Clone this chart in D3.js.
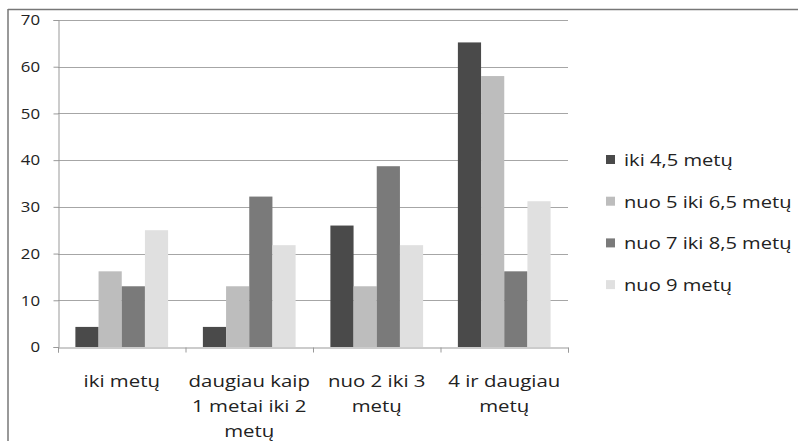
<!DOCTYPE html>
<html><head><meta charset="utf-8">
<script src="https://cdn.jsdelivr.net/npm/d3@7/dist/d3.min.js"></script>
<style>body{margin:0;background:#fff}svg{display:block}</style>
</head><body>
<svg id="c" width="798" height="441"></svg>
<script>
const categories = [["iki metų"], ["daugiau kaip", "1 metai iki 2", "metų"], ["nuo 2 iki 3", "metų"], ["4 ir daugiau", "metų"]];
const seriesNames = ["iki 4,5 metų", "nuo 5 iki 6,5 metų", "nuo 7 iki 8,5 metų", "nuo 9 metų"];
const s1 = [4.3, 4.3, 26, 65.2];
const s2 = [16.2, 13, 13, 58];
const s3 = [13, 32.2, 38.7, 16.2];
const s4 = [25, 21.8, 21.8, 31.2];
const yTicks = [0, 10, 20, 30, 40, 50, 60, 70];
const colors = ["#4a4a4a", "#bdbdbd", "#7a7a7a", "#e0e0e0"];
const series = [s1, s2, s3, s4];

const svg = d3.select("#c");
const font = "'Open Sans', sans-serif";
// outer frame
svg.append("line").attr("x1", 8).attr("x2", 798).attr("y1", 9.5).attr("y2", 9.5).attr("stroke", "#777").attr("stroke-width", 1.5);
svg.append("line").attr("x1", 8).attr("x2", 8).attr("y1", 9).attr("y2", 441).attr("stroke", "#777").attr("stroke-width", 1.5);

const pL = 58, pR = 568, pT = 20, pB = 347;
const y = d3.scaleLinear().domain([0, 70]).range([pB, pT]);
const x0 = d3.scaleBand().domain(d3.range(categories.length)).range([pL, pR]).paddingInner(0).paddingOuter(0);
const x1 = d3.scaleBand().domain(d3.range(series.length)).range([0, x0.bandwidth()]).paddingOuter(0.75).paddingInner(0);

// gridlines
svg.append("g").selectAll("line").data(yTicks.filter(d => d > 0)).join("line")
  .attr("x1", pL).attr("x2", pR).attr("y1", d => Math.round(y(d)) + 0.5).attr("y2", d => Math.round(y(d)) + 0.5)
  .attr("stroke", "#a6a6a6").attr("stroke-width", 1);

// bars
series.forEach((s, si) => {
  svg.append("g").selectAll("rect").data(s).join("rect")
    .attr("x", (d, i) => x0(i) + x1(si))
    .attr("width", x1.bandwidth())
    .attr("y", d => y(d))
    .attr("height", d => pB - y(d))
    .attr("fill", colors[si]);
});

// y axis
const sxY = 1.12;
const yAxis = d3.axisLeft(y).tickValues(yTicks).tickSize(5).tickPadding(14);
const gy = svg.append("g").attr("transform", `translate(${pL + 0.5},0)`).call(yAxis);
gy.select(".domain").attr("stroke", "#999");
gy.selectAll(".tick line").attr("stroke", "#999");
gy.selectAll("text").attr("font-family", font).attr("font-size", 15).attr("fill", "#222")
  .attr("x", -18.5 / sxY).attr("transform", `scale(${sxY},1)`);

// x axis
const xAxis = d3.axisBottom(d3.scaleLinear().domain([0, 4]).range([pL, pR])).tickValues([0, 1, 2, 3, 4]).tickSize(5).tickFormat("");
const gx = svg.append("g").attr("transform", `translate(0,${pB + 0.5})`).call(xAxis);
gx.select(".domain").attr("stroke", "#999");
gx.selectAll(".tick line").attr("stroke", "#999");

// category labels
categories.forEach((lines, i) => {
  const t = svg.append("text").attr("text-anchor", "middle").attr("font-family", font).attr("font-size", 17).attr("fill", "#222")
    .attr("transform", `translate(${x0(i) + x0.bandwidth() / 2},0) scale(1.2,1)`);
  lines.forEach((ln, k) => {
    t.append("tspan").attr("x", 0).attr("y", 387 + k * 25).text(ln);
  });
});

// legend
const lg = svg.append("g");
seriesNames.forEach((n, i) => {
  const yy = 160 + i * 41.7;
  lg.append("rect").attr("x", 606).attr("y", yy - 5).attr("width", 9).attr("height", 9).attr("fill", colors[i]);
  lg.append("text").attr("transform", `translate(624,${yy + 6}) scale(1.22,1)`).attr("font-family", font).attr("font-size", 16.5).attr("fill", "#222").text(n);
});
</script>
</body></html>
